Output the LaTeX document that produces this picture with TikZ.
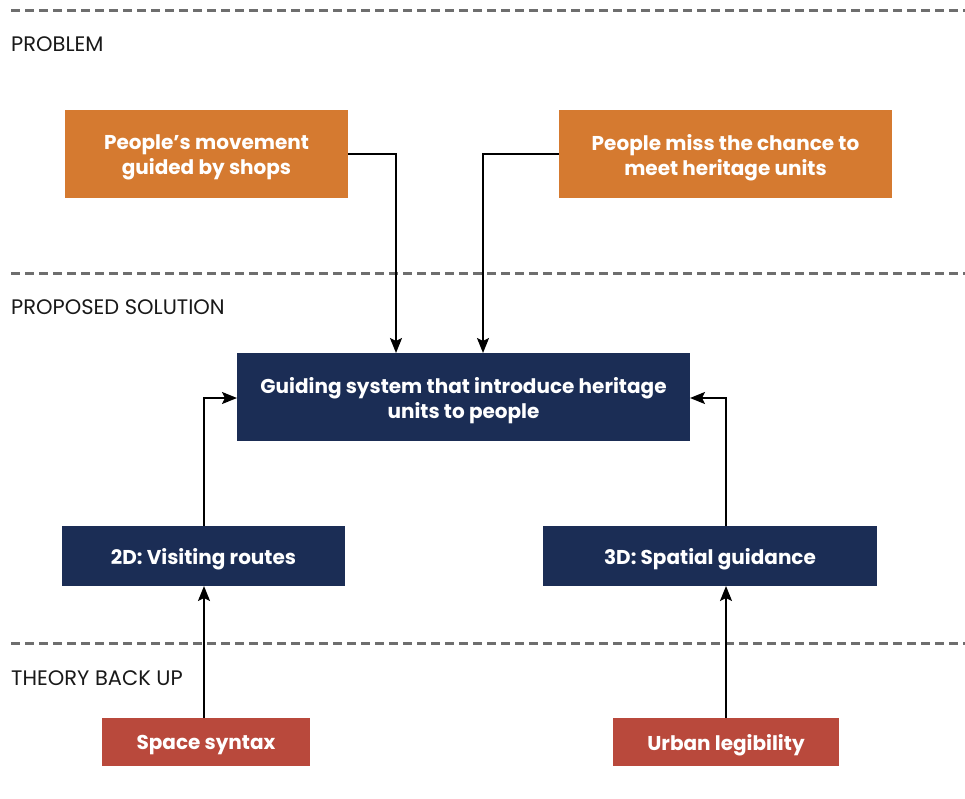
\documentclass[tikz,border=0pt]{standalone}
\usepackage{fontspec}
\setmainfont{Poppins}
\usetikzlibrary{arrows.meta}
\definecolor{orangebox}{HTML}{D57A30}
\definecolor{navybox}{HTML}{1B2D55}
\definecolor{redbox}{HTML}{B9493C}
\definecolor{dashgray}{HTML}{6E6E6E}
\tikzset{
  boxtxt/.style={inner sep=0pt, text=white, align=center, yshift=-3.5pt,
    font=\fontsize{20}{25}\selectfont\bfseries},
  box/.style={rectangle, inner sep=0pt, label={[boxtxt]center:{#1}}},
  obox/.style={box=#1, fill=orangebox},
  nbox/.style={box=#1, fill=navybox},
  rbox/.style={box=#1, fill=redbox},
  sep/.style={dashgray, line width=3pt, dash pattern=on 9pt off 5pt},
  lbl/.style={anchor=west, inner sep=0pt, text=black!90, font=\fontsize{21}{24}\selectfont},
  conn/.style={black, line width=2pt, -{Stealth[length=15pt,width=12pt,inset=3pt]}}
}
\begin{document}
\begin{tikzpicture}[x=1pt,y=-1pt]
\useasboundingbox[fill=white] (0,0) rectangle (965,798);
% separators
\coordinate (s1a) at (11,10); \coordinate (s1b) at (965,10);
\coordinate (s2a) at (11,273); \coordinate (s2b) at (965,273);
\coordinate (s3a) at (11,643); \coordinate (s3b) at (965,643);
\draw[sep] (s1a) -- (s1b);
\draw[sep] (s2a) -- (s2b);
\draw[sep] (s3a) -- (s3b);
% labels
\node[lbl] (lp) at (11,44) {PROBLEM};
\node[lbl] (ls) at (11,307) {PROPOSED SOLUTION};
\node[lbl] (lt) at (11,678) {THEORY BACK UP};
% boxes
\node[obox={People’s movement\\guided by shops}, minimum width=283pt, minimum height=88pt] (p1) at (206.5,154) {};
\node[obox={People miss the chance to\\meet heritage units}, minimum width=333pt, minimum height=88pt] (p2) at (725.5,154) {};
\node[nbox={Guiding system that introduce heritage\\units to people}, minimum width=453pt, minimum height=88pt] (g) at (463.5,397) {};
\node[nbox={2D: Visiting routes}, minimum width=283pt, minimum height=60pt] (d2) at (203.5,556) {};
\node[nbox={3D: Spatial guidance}, minimum width=334pt, minimum height=60pt] (d3) at (710,556) {};
\node[rbox={Space syntax}, minimum width=208pt, minimum height=48pt] (r1) at (206,742) {};
\node[rbox={Urban legibility}, minimum width=226pt, minimum height=48pt] (r2) at (726,742) {};
% connector endpoints
\coordinate (gt1) at (396,353);
\coordinate (gt2) at (483,353);
\coordinate (gl) at (237,398);
\coordinate (gr) at (690,398);
\coordinate (d2t) at (204,526);
\coordinate (d3t) at (726,526);
\coordinate (d2b) at (204,586);
\coordinate (d3b) at (726,586);
\coordinate (r1t) at (204,718);
\coordinate (r2t) at (726,718);
% connectors
\draw[conn] (p1.east) -| (gt1);
\draw[conn] (p2.west) -| (gt2);
\draw[conn] (d2t) |- (gl);
\draw[conn] (d3t) |- (gr);
\draw[conn] (r1t) -- (d2b);
\draw[conn] (r2t) -- (d3b);
\end{tikzpicture}
\end{document}
